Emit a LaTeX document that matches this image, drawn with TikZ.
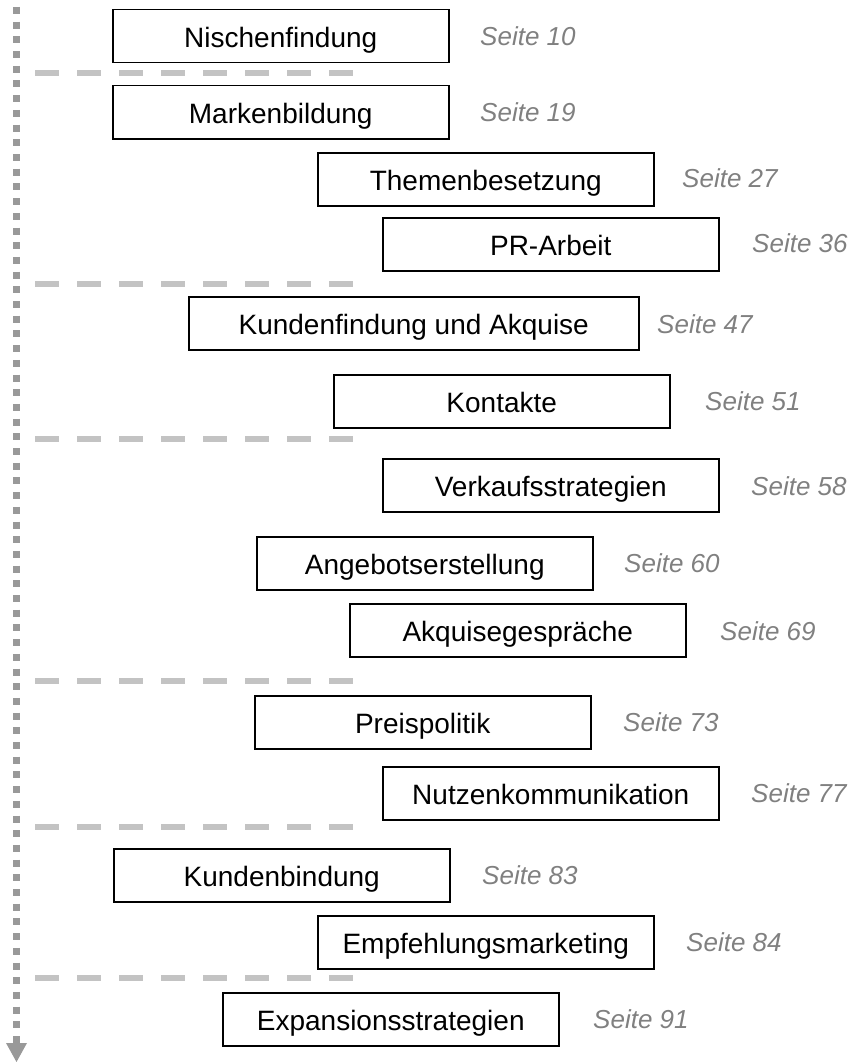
\documentclass[tikz,border=0pt]{standalone}
\usepackage{fontspec}
\setmainfont{Liberation Sans}
\definecolor{dotgray}{HTML}{999999}
\definecolor{dashgray}{HTML}{C3C3C3}
\definecolor{pagegray}{HTML}{808080}
\begin{document}
\begin{tikzpicture}[x=1pt,y=-1pt,
        stage/.style={draw,line width=1.5pt,minimum width=336pt,minimum height=53pt,anchor=north west,
            inner sep=0pt,text height=22pt,text depth=0pt,font=\fontsize{28}{30}\selectfont},
        page/.style={anchor=west,inner sep=0pt,text=pagegray,text height=20pt,text depth=0pt,
            font=\fontsize{26}{28}\selectfont\itshape},
        divider/.style={dashgray,line width=6pt,dash pattern=on 24pt off 18pt}]
        \useasboundingbox (0,0) rectangle (851,1062);
        % time line on the left
        \coordinate (start) at (16.5,7);
        \coordinate (stop) at (16.5,1043);
        \coordinate (tip) at (16.5,1062);
        \draw[dotgray,line width=7pt,dash pattern=on 7pt off 7.7pt] (start) -- (stop);
        \fill[dotgray] (tip) -- ++(-10.5,-19) -- ++(21,0) -- cycle;
        % phases
        \draw[divider] (35,73) -- (355,73);
        \draw[divider] (35,284) -- (355,284);
        \draw[divider] (35,439) -- (355,439);
        \draw[divider] (35,681) -- (355,681);
        \draw[divider] (35,827) -- (355,827);
        \draw[divider] (35,978) -- (355,978);
        % chapters
        \node[stage] (nische) at (112,9) {Nischenfindung};
        \node[page] (nische-s) at (480,35.5) {Seite 10};
        \node[stage] (marke) at (112,85) {Markenbildung};
        \node[page] (marke-s) at (480,111.5) {Seite 19};
        \node[stage] (themen) at (317,152) {Themenbesetzung};
        \node[page] (themen-s) at (682,177.5) {Seite 27};
        \node[stage] (pr) at (382,217) {PR-Arbeit};
        \node[page] (pr-s) at (752,242.5) {Seite 36};
        \node[stage,minimum width=450pt] (kunden) at (188,296) {Kundenfindung und Akquise};
        \node[page] (kunden-s) at (657,323) {Seite 47};
        \node[stage] (kontakte) at (333,374) {Kontakte};
        \node[page] (kontakte-s) at (705,400) {Seite 51};
        \node[stage] (verkauf) at (382,458) {Verkaufsstrategien};
        \node[page] (verkauf-s) at (751,485) {Seite 58};
        \node[stage] (angebot) at (256,536) {Angebotserstellung};
        \node[page] (angebot-s) at (624,562) {Seite 60};
        \node[stage] (gespraech) at (349,603) {Akquisegespräche};
        \node[page] (gespraech-s) at (720,630) {Seite 69};
        \node[stage] (preis) at (254,695) {Preispolitik};
        \node[page] (preis-s) at (623,721) {Seite 73};
        \node[stage] (nutzen) at (382,766) {Nutzenkommunikation};
        \node[page] (nutzen-s) at (751,792) {Seite 77};
        \node[stage] (bindung) at (113,848) {Kundenbindung};
        \node[page] (bindung-s) at (482,874.5) {Seite 83};
        \node[stage] (empfehlung) at (317,915) {Empfehlungsmarketing};
        \node[page] (empfehlung-s) at (686,941) {Seite 84};
        \node[stage] (expansion) at (222,992) {Expansionsstrategien};
        \node[page] (expansion-s) at (593,1018) {Seite 91};
    \end{tikzpicture}
\end{document}
